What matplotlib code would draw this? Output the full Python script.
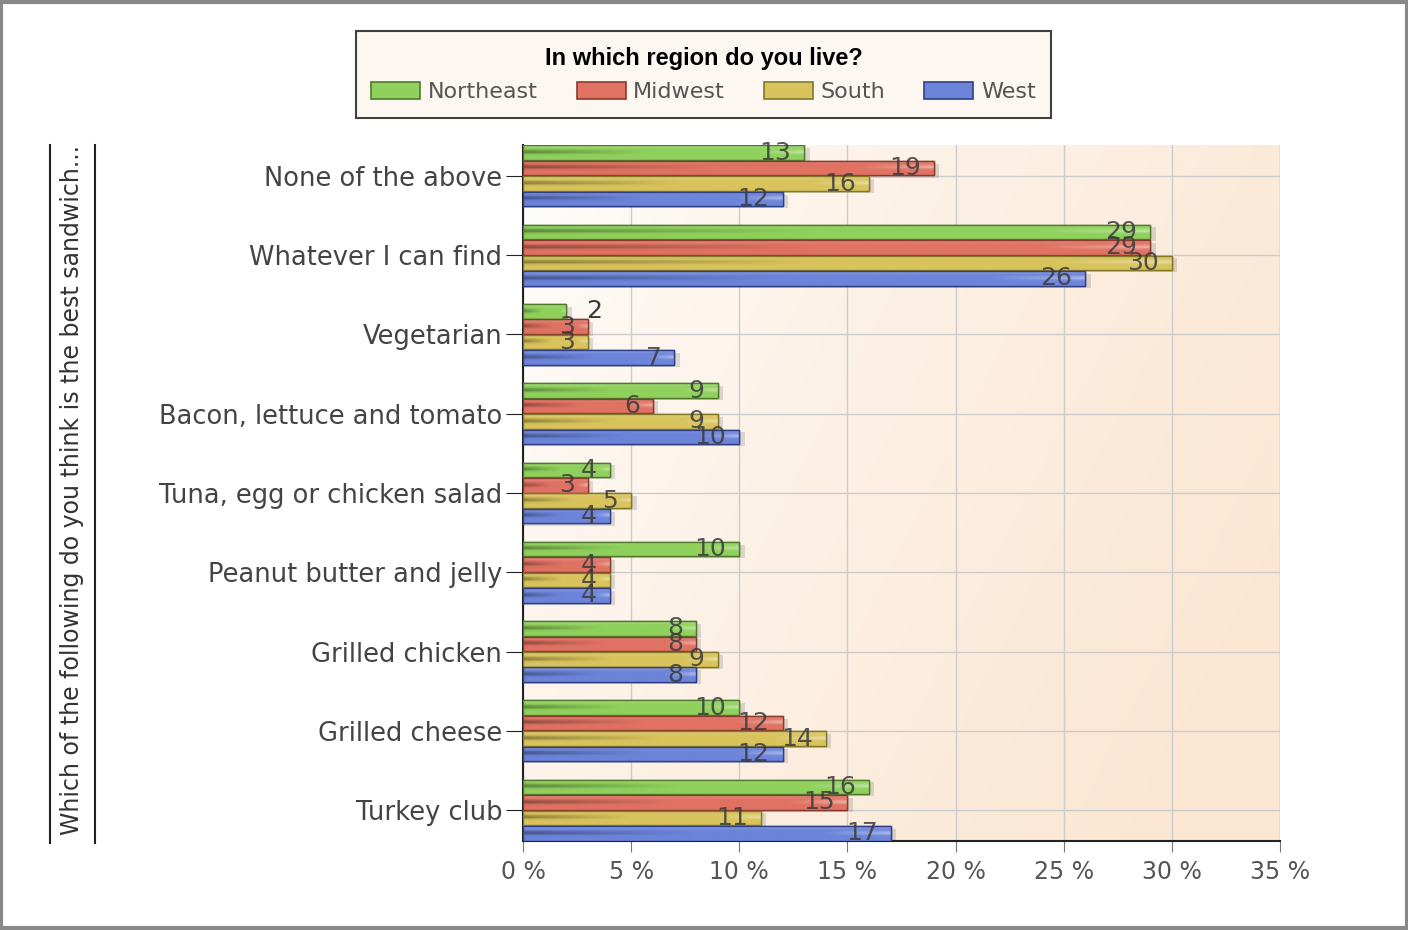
"""
Best sandwich by region - horizontal grouped bar chart (percent of respondents).
"""

import numpy as np
import matplotlib.pyplot as plt
from matplotlib.patches import Rectangle
from matplotlib.lines import Line2D
from matplotlib.ticker import FuncFormatter

categories = [
    "None of the above",
    "Whatever I can find",
    "Vegetarian",
    "Bacon, lettuce and tomato",
    "Tuna, egg or chicken salad",
    "Peanut butter and jelly",
    "Grilled chicken",
    "Grilled cheese",
    "Turkey club",
]
regions = ["Northeast", "Midwest", "South", "West"]
northeast = [13, 29, 2, 9, 4, 10, 8, 10, 16]
midwest = [19, 29, 3, 6, 3, 4, 8, 12, 15]
south = [16, 30, 3, 9, 5, 4, 9, 14, 11]
west = [12, 26, 7, 10, 4, 4, 8, 12, 17]
x_ticks = [0, 5, 10, 15, 20, 25, 30, 35]

y_title = "Which of the following do you think is the best sandwich..."
legend_title = "In which region do you live?"

COLORS = ["#8fd15c", "#df7262", "#d8c35c", "#6c84d9"]
EDGES = ["#4f7a2c", "#8a3a2c", "#857728", "#2f3f85"]
W, H, DPI = 1408, 930, 100


def to_rgb(c):
    c = c.lstrip("#")
    return np.array([int(c[i:i + 2], 16) / 255 for i in (0, 2, 4)])


def bar_gradient(color):
    # dark stripe on the left fading out, light highlight at right end
    base = to_rgb(color)
    t = np.linspace(0, 1, 60)[None, :]
    s = np.linspace(0, 1, 9)[:, None]
    stripe = np.exp(-((s - 0.45) / 0.14) ** 2)
    dark = 0.38 * stripe * np.clip(1 - t / 0.45, 0, 1)
    light = 0.45 * stripe * np.clip((t - 0.82) / 0.18, 0, 1)
    top = 0.18 * np.clip(1 - s / 0.25, 0, 1)
    img = base[None, None, :] * (1 - dark[..., None])
    img = img + (1 - img) * (light + top)[..., None]
    return np.clip(img, 0, 1)


fig = plt.figure(figsize=(W / DPI, H / DPI), dpi=DPI)
ax = fig.add_axes([523 / W, 1 - 841 / H, (1280 - 523) / W, (841 - 145) / H])

# plot area background: white to light peach
gx = np.linspace(0, 1, 200)[None, :]
gy = np.linspace(0, 1, 100)[:, None]
g = np.clip(0.75 * gx + 0.35 * gy, 0, 1) ** 0.7
white = np.array([1.0, 1.0, 1.0])
peach = to_rgb("#fbe6d2")
bg = white[None, None, :] * (1 - g[..., None]) + peach[None, None, :] * g[..., None]
ax.imshow(bg, extent=(0, 35, len(categories) - 0.61, -0.39), aspect="auto", zorder=0)

group_h = 0.78
bh = group_h / 4
y = np.arange(len(categories))
series = [northeast, midwest, south, west]

for j, vals in enumerate(series):
    ys = y + (j - 1.5) * bh
    # soft shadow
    ax.barh(ys + 0.03, np.array(vals) + 0.25, height=bh * 0.9, color="#7a7a7a",
            alpha=0.25, linewidth=0, zorder=2)
    bars = ax.barh(ys, vals, height=bh * 0.94, color=COLORS[j], edgecolor=EDGES[j],
                   linewidth=1.0, zorder=3)
    grad = bar_gradient(COLORS[j])
    for b, v, yy in zip(bars, vals, ys):
        im = ax.imshow(grad, extent=(0, v, yy + bh * 0.47, yy - bh * 0.47),
                       aspect="auto", zorder=3.5, interpolation="bilinear")
        im.set_clip_path(b)
        edge = Rectangle(b.get_xy(), b.get_width(), b.get_height(), fill=False,
                         edgecolor=EDGES[j], linewidth=1.0, zorder=4)
        ax.add_patch(edge)
        if v < 2.5:
            ax.text(v + 0.9, yy, str(v), ha="left", va="center", fontsize=18,
                    color="#3a3a3a", zorder=5)
        else:
            ax.text(v - 0.6, yy, str(v), ha="right", va="center", fontsize=18,
                    color="#3a3a3a", alpha=0.85, zorder=5)

ax.set_xlim(0, 35)
ax.set_ylim(len(categories) - 0.61, -0.39)
ax.set_yticks(y)
ax.set_yticklabels(categories, fontsize=18.5, color="#444444")
ax.set_xticks(x_ticks)
ax.xaxis.set_major_formatter(FuncFormatter(lambda v, p: f"{v:.0f} %"))
ax.tick_params(axis="x", labelsize=17, labelcolor="#555555", length=8,
               color="#777777", pad=6)
ax.tick_params(axis="y", length=12, color="#222222", pad=3)
ax.grid(True, color="#cccccc", linewidth=1, zorder=1)
ax.set_axisbelow(True)
for side in ["top", "right"]:
    ax.spines[side].set_visible(False)
ax.spines["left"].set_color("#222222")
ax.spines["bottom"].set_color("#222222")
ax.spines["left"].set_linewidth(1.5)
ax.spines["bottom"].set_linewidth(1.5)
ax.axvline(35, color="#cccccc", linewidth=1, zorder=1)

# y axis title with rules on both sides
fig.text(72 / W, 1 - 490 / H, y_title, rotation=90, ha="center", va="center",
         fontsize=17, color="#333333")
for xl in (50, 95):
    fig.add_artist(Line2D([xl / W, xl / W], [1 - 843 / H, 1 - 145 / H],
                          color="#222222", linewidth=1.5))

# legend
handles = [Rectangle((0, 0), 1, 1, facecolor=c, edgecolor=e, linewidth=1.2)
           for c, e in zip(COLORS, EDGES)]
leg = fig.legend(handles, regions, loc="upper center",
                 bbox_to_anchor=(703.5 / W, 1 - 31 / H), ncol=4,
                 title=legend_title, fontsize=16, frameon=True, fancybox=False,
                 handlelength=2.2, handleheight=0.8, handletextpad=0.35,
                 columnspacing=1.75, borderpad=0.7, labelspacing=0.55,
                 borderaxespad=0)
leg.get_frame().set_edgecolor("#111111")
leg.get_frame().set_linewidth(1.5)
leg.get_frame().set_facecolor("#fdf5ee")
leg.get_title().set_fontweight("bold")
leg.get_title().set_fontsize(17)
leg.get_title().set_family("Liberation Sans")
for t in leg.get_texts():
    t.set_color("#555555")

# outer frame
fig.add_artist(Rectangle((0.001, 0.002), 0.998, 0.996, transform=fig.transFigure,
                         fill=False, edgecolor="#888888", linewidth=3))

fig.savefig("out.png", dpi=DPI)
